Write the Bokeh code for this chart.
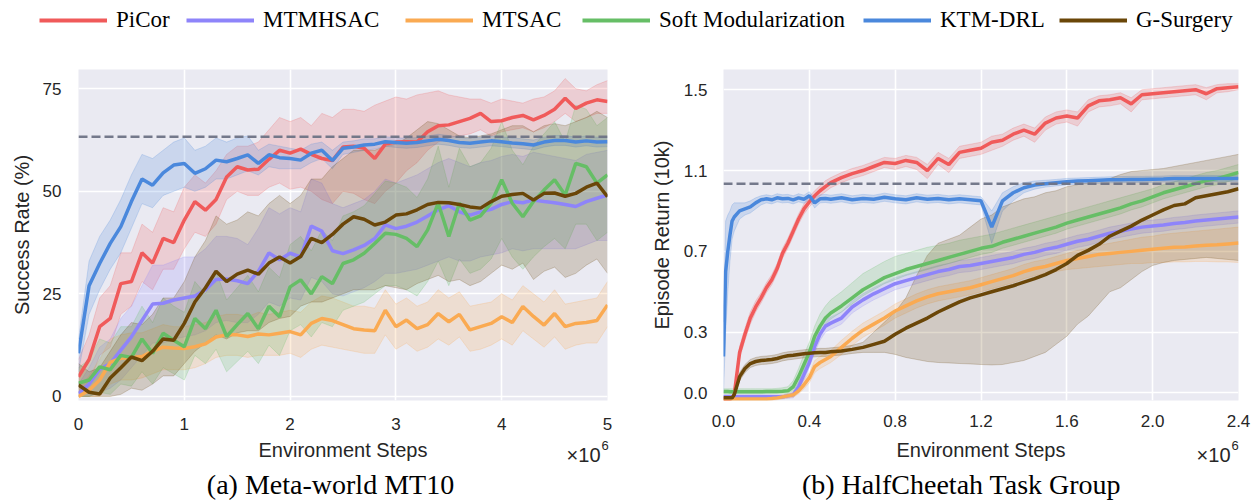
from bokeh.plotting import figure
from bokeh.layouts import column, row
from bokeh.models import (Range1d, FixedTicker, PrintfTickFormatter, Span, Label,
                          Legend, LegendItem)
from bokeh.embed import file_html
from bokeh.resources import INLINE

# ---------------- data ----------------
methods = ["PiCor", "MTMHSAC", "MTSAC", "Soft Modularization", "KTM-DRL", "G-Surgery"]
colors = ["#F05A5A", "#8E84FA", "#FAAA52", "#66BE66", "#4A88DC", "#6A4608"]

# Meta-world MT10 (x in millions of steps, y = success rate %)
mt10_steps = [0.0, 0.1, 0.2, 0.3, 0.4, 0.5, 0.6, 0.7, 0.8, 0.9, 1.0,
              1.1, 1.2, 1.3, 1.4, 1.5, 1.6, 1.7, 1.8, 1.9, 2.0,
              2.1, 2.2, 2.3, 2.4, 2.5, 2.6, 2.7, 2.8, 2.9, 3.0,
              3.1, 3.2, 3.3, 3.4, 3.5, 3.6, 3.7, 3.8, 3.9, 4.0,
              4.1, 4.2, 4.3, 4.4, 4.5, 4.6, 4.7, 4.8, 4.9, 5.0]

mt10_picor_mean = [4.8, 9, 17, 19, 27.5, 28, 35, 32.5, 38.5, 37.5, 43,
                   47.5, 45.4, 48, 53.5, 56, 55.2, 55.4, 57.8, 60, 59.3,
                   60.3, 59, 58, 57.5, 60.8, 61, 60.5, 58, 61.5, 62,
                   62.1, 62, 64.5, 66, 66.2, 67, 67.8, 69, 67, 67.2,
                   68, 68.5, 67.4, 68.5, 70, 72.7, 70.2, 71.5, 72.3, 71.9]
mt10_picor_low = [1, 3, 10, 12, 20, 22, 28, 26, 31, 31, 36,
                  40, 39, 42, 48, 50, 49, 49, 51, 52, 50.5,
                  51, 50, 48, 47, 50, 49.5, 48, 47, 50, 52,
                  55, 57, 60, 62, 63, 63.5, 64, 65, 63.5, 64.5,
                  65, 65.5, 64.5, 65.5, 67, 69, 67, 68, 69, 69]
mt10_picor_high = [9, 15, 24, 27, 35, 35, 42, 40, 46, 45, 51,
                   54, 52, 55, 59, 61, 61, 62, 65, 68, 67,
                   68, 66, 69, 68, 70, 70, 69.5, 71, 72, 73,
                   72.5, 73.5, 74, 74.5, 73.5, 73, 72.5, 72.5, 71.5, 72.5,
                   72, 71.5, 72.5, 73, 74.5, 77.5, 75, 74.5, 76, 77]

mt10_mtmhsac_mean = [0.7, 3, 6.6, 8, 11.3, 14.5, 18.5, 22.5, 22.7, 23.5, 24,
                     24.5, 26, 28.5, 28.6, 28.2, 27.5, 30.5, 35, 33.3, 34.9,
                     34, 41.5, 40.3, 35.5, 34.8, 35.7, 36.8, 38.5, 41.8, 40.9,
                     41.5, 42.5, 44, 45.5, 46.5, 45, 44.2, 45, 45.6, 46.8,
                     47.5, 47.2, 47.9, 47.5, 47.2, 46.8, 46.3, 47.5, 48.3, 49.1]
mt10_mtmhsac_low = [0, 0, 1, 2, 4, 7, 10, 13, 13, 14, 14.5,
                    15, 16, 18, 18.5, 18, 18, 20, 23, 22, 24,
                    23.5, 29, 28, 25, 24.5, 25.5, 26.5, 28, 30, 30,
                    30.5, 31, 32, 33, 34, 33, 33, 34, 34.5, 35,
                    36, 35.5, 36, 36, 36, 36, 36, 37, 38, 38]
mt10_mtmhsac_high = [3, 7, 12, 14, 19, 22, 27, 32, 32, 33, 34,
                     34, 36, 39, 39, 38.5, 37, 41, 46, 44.5, 46,
                     45, 53, 52, 47, 46, 47, 48, 50, 53, 52,
                     53, 54, 55.5, 57, 58, 57, 56, 57, 57.5, 58.5,
                     59, 58.5, 59.5, 59, 58.5, 58, 57.5, 59, 59.5, 60]

mt10_mtsac_mean = [0, 1.5, 4, 8.3, 9.3, 9.5, 9.7, 11, 12, 11.8, 11.7,
                   12.1, 12.8, 14.5, 15, 15, 14.6, 15.2, 15, 15.4, 15.8,
                   15, 17.8, 19, 18.5, 17.5, 16.5, 16.2, 16, 21, 17,
                   18.6, 16.5, 17.5, 20.2, 18.2, 20, 16.2, 17, 17.8, 19.4,
                   18, 21.9, 19.5, 17.4, 20.2, 17, 17.8, 18, 18.5, 22.3]
mt10_mtsac_low = [0, 0, 0, 3, 4, 4, 4.5, 5.5, 6.5, 6.5, 6.5,
                  7, 8, 9.5, 10, 10, 9.5, 10, 10, 10, 10.5,
                  9.5, 11.5, 12.5, 12, 11.5, 11, 10.5, 10.5, 15, 11.5,
                  13, 11, 12, 14, 12.5, 14.5, 11, 11.5, 12.5, 14,
                  12.5, 16, 14, 12, 14.5, 11.5, 12.5, 13, 13, 17]
mt10_mtsac_high = [2, 5, 9, 14, 15, 15.5, 15.5, 16.5, 17.5, 17, 17,
                   17.5, 18, 19.5, 20, 20, 19.5, 20.5, 20, 20.5, 21,
                   20.5, 23, 24.5, 24, 23, 22, 22, 21.5, 26, 22.5,
                   24, 22, 23, 26, 24, 25.5, 22, 22.5, 23, 25,
                   23.5, 27, 25, 23, 26, 22.5, 23, 23.5, 24, 28]

mt10_softmod_mean = [3.2, 4, 7.2, 6.5, 10, 9.5, 14, 10.5, 15.4, 13.7, 12.1,
                     19, 16.5, 21, 14.6, 17.5, 20.2, 16.5, 22, 19.4, 26.7,
                     28.4, 25, 29.2, 27.5, 32.4, 33.3, 34.9, 37.3, 39.8, 39.5,
                     38.5, 36.5, 40.6, 47.1, 39, 47.1, 43, 44, 47.1, 52.8,
                     47.1, 43.8, 47.5, 50.3, 52.8, 49.1, 56.8, 56, 52, 54]
mt10_softmod_low = [0, 0, 1, 0.5, 3, 2.5, 6, 3, 7, 5.5, 4,
                    10, 8, 11.5, 6, 8.5, 11, 8, 12.5, 10, 16,
                    17.5, 14.5, 18, 17, 21, 22, 23, 25, 27, 27,
                    26, 24.5, 28, 33, 27, 33.5, 30, 31, 33.5, 38.5,
                    34, 31, 34, 36.5, 38.5, 36, 42, 42, 38, 40]
mt10_softmod_high = [7, 9, 14, 13, 17, 17, 22, 18, 24, 22, 20.5,
                     28, 25, 30.5, 23.5, 26.5, 29.5, 25.5, 31.5, 29, 37,
                     39, 35.5, 40.5, 38, 44, 45, 46.5, 49.5, 52.5, 52,
                     51, 48.5, 53, 61, 51, 60.5, 56, 57, 60.5, 67,
                     60, 56.5, 61, 64, 67, 62, 71, 70, 66, 68]

mt10_ktm_mean = [10.5, 27, 32.4, 37.3, 41.4, 47.5, 53, 51.5, 54.5, 56.4, 56.8,
                 54.4, 55.5, 57.6, 57.2, 58, 58.9, 56.8, 58.9, 58.2, 58,
                 57.6, 59.3, 60, 57.5, 60.5, 60.8, 61.3, 61.5, 62.1, 61.9,
                 61.7, 61.9, 62.3, 62.7, 62.4, 61.9, 61.7, 62, 62.3, 62.1,
                 61.8, 61.6, 61.3, 62, 62.4, 62.4, 62, 62.3, 62, 62.1]
mt10_ktm_low = [6, 20, 26, 31, 35, 41, 47, 46, 49, 50, 51,
                50, 51, 53, 53, 54, 55, 54, 56, 55.5, 55.5,
                55.5, 57, 58, 55.5, 59, 59.5, 60, 60.3, 61, 60.7,
                60.5, 60.7, 61.1, 61.5, 61.2, 60.7, 60.5, 60.8, 61.1, 60.9,
                60.6, 60.4, 60.1, 60.8, 61.2, 61.2, 60.8, 61.1, 60.8, 60.9]
mt10_ktm_high = [14, 33, 39, 43, 48, 54, 59, 58, 60, 62, 63,
                 60, 61, 63, 62, 63, 63.5, 60, 61.5, 61, 60.5,
                 60, 61.5, 62, 60, 62, 62.3, 62.8, 62.8, 63.3, 63.1,
                 62.9, 63.1, 63.5, 63.9, 63.6, 63.1, 62.9, 63.2, 63.5, 63.3,
                 63, 62.8, 62.5, 63.2, 63.6, 63.6, 63.2, 63.5, 63.2, 63.3]

mt10_gsurgery_mean = [2.8, 1, 0.6, 4.5, 7, 9.6, 8.7, 11, 14, 13.7, 17.8,
                      23, 26.5, 30.5, 28, 29.8, 30.8, 29.8, 32.5, 34, 32.5,
                      34.1, 38.5, 37.5, 39.5, 42, 43.8, 43.2, 41.8, 42.5, 44.2,
                      44.5, 45.5, 46.8, 47.3, 47.2, 46.8, 46.2, 45.9, 47.5, 48.8,
                      49.2, 49.5, 47.9, 49.5, 49.6, 48.8, 49.5, 51, 52, 48.7]
mt10_gsurgery_low = [0, 0, 0, 0, 0.5, 2, 1.5, 3, 5, 5, 8,
                     11, 13, 15, 14, 15.5, 16, 16, 18, 19, 19.5,
                     22, 23, 23, 24, 25, 26, 26, 26, 27, 26.5,
                     26, 27.5, 28.5, 29.5, 28, 28.5, 27, 28, 30, 32,
                     31, 32.5, 28.5, 30.5, 31.5, 29, 30, 32, 33.5, 30]
mt10_gsurgery_high = [8, 6, 7, 11, 15, 18, 17.5, 20, 24, 24, 28,
                      34, 38, 44, 42, 43, 45, 44, 47, 49, 47,
                      49, 53, 53, 56, 58, 60, 60, 60, 61, 61.5,
                      63, 65, 67, 66.5, 65, 63.5, 63, 63.5, 64, 65,
                      66, 66, 64.5, 66, 66.5, 66, 67, 68, 69.5, 68]

mt10_baseline = 63.3

# HalfCheetah task group (x in millions of steps, y = episode return in 10k)
hc_steps = [0.0, 0.01, 0.02, 0.03, 0.04, 0.05,
            0.075, 0.1, 0.125, 0.15, 0.175, 0.2, 0.225, 0.25, 0.275, 0.3,
            0.325, 0.35, 0.375, 0.4, 0.425, 0.45, 0.475, 0.5,
            0.55, 0.6, 0.65, 0.7, 0.75, 0.8, 0.85, 0.9, 0.95, 1.0,
            1.05, 1.1, 1.15, 1.2, 1.25, 1.3, 1.35, 1.4, 1.45,
            1.5, 1.55, 1.6, 1.65, 1.7, 1.75, 1.8, 1.85, 1.9, 1.95, 2.0,
            2.05, 2.1, 2.15, 2.2, 2.25, 2.3, 2.35, 2.4]

hc_picor_mean = [-0.03, -0.03, -0.03, -0.03, -0.025, -0.01,
                 0.2, 0.29, 0.37, 0.425, 0.47, 0.52, 0.56, 0.615, 0.69, 0.74, 0.8, 0.86, 0.91, 0.945, 0.975, 1.0, 1.02, 1.04,
                 1.065, 1.085, 1.1, 1.12, 1.14, 1.135, 1.15, 1.14, 1.1, 1.16, 1.13, 1.19, 1.2, 1.21, 1.24, 1.25, 1.28, 1.3, 1.28,
                 1.335, 1.36, 1.37, 1.36, 1.42, 1.445, 1.45, 1.46, 1.43, 1.475, 1.48, 1.485, 1.49, 1.495, 1.5, 1.48, 1.505, 1.51, 1.515]
hc_picor_low = [-0.04, -0.04, -0.04, -0.04, -0.035, -0.02,
                0.17, 0.26, 0.34, 0.4, 0.445, 0.495, 0.535, 0.59, 0.665, 0.715, 0.775, 0.835, 0.885, 0.92, 0.95, 0.975, 0.995, 1.015,
                1.04, 1.06, 1.075, 1.095, 1.115, 1.105, 1.12, 1.105, 1.06, 1.13, 1.09, 1.16, 1.17, 1.18, 1.2, 1.22, 1.25, 1.27, 1.24,
                1.3, 1.33, 1.34, 1.32, 1.39, 1.415, 1.42, 1.43, 1.39, 1.45, 1.455, 1.46, 1.465, 1.47, 1.475, 1.45, 1.485, 1.49, 1.5]
hc_picor_high = [-0.02, -0.02, -0.02, -0.02, -0.015, 0.0,
                 0.23, 0.32, 0.4, 0.455, 0.495, 0.545, 0.585, 0.64, 0.715, 0.765, 0.825, 0.885, 0.935, 0.97, 1.0, 1.025, 1.05, 1.065,
                 1.09, 1.11, 1.125, 1.145, 1.165, 1.16, 1.175, 1.165, 1.13, 1.19, 1.16, 1.22, 1.23, 1.24, 1.27, 1.28, 1.31, 1.33, 1.31,
                 1.365, 1.39, 1.4, 1.39, 1.45, 1.47, 1.475, 1.485, 1.46, 1.5, 1.505, 1.51, 1.515, 1.52, 1.525, 1.51, 1.525, 1.53, 1.53]

hc_mtmhsac_mean = [-0.02, -0.02, -0.02, -0.02, -0.02, -0.02,
                   -0.02, -0.02, -0.02, -0.02, -0.02, -0.02, -0.02, -0.02, -0.02, -0.015, -0.01, 0.03, 0.09, 0.15, 0.23, 0.29, 0.33, 0.345,
                   0.37, 0.425, 0.46, 0.49, 0.515, 0.54, 0.555, 0.57, 0.585, 0.6, 0.61, 0.625, 0.63, 0.64, 0.65, 0.66, 0.67, 0.685, 0.695,
                   0.71, 0.72, 0.735, 0.75, 0.76, 0.775, 0.79, 0.8, 0.81, 0.82, 0.825, 0.83, 0.838, 0.843, 0.85, 0.855, 0.86, 0.865, 0.87]
hc_mtmhsac_low = [-0.03, -0.03, -0.03, -0.03, -0.03, -0.03,
                  -0.03, -0.03, -0.03, -0.03, -0.03, -0.03, -0.03, -0.03, -0.03, -0.027, -0.025, 0.01, 0.065, 0.125, 0.2, 0.26, 0.3, 0.315,
                  0.34, 0.395, 0.43, 0.46, 0.485, 0.51, 0.525, 0.54, 0.555, 0.57, 0.58, 0.595, 0.6, 0.61, 0.62, 0.63, 0.64, 0.655, 0.665,
                  0.68, 0.69, 0.705, 0.72, 0.73, 0.745, 0.76, 0.77, 0.78, 0.79, 0.795, 0.8, 0.808, 0.813, 0.82, 0.825, 0.83, 0.835, 0.84]
hc_mtmhsac_high = [-0.01, -0.01, -0.01, -0.01, -0.01, -0.01,
                   -0.01, -0.01, -0.01, -0.01, -0.01, -0.01, -0.01, -0.01, -0.01, -0.005, 0.005, 0.055, 0.12, 0.18, 0.26, 0.32, 0.36, 0.375,
                   0.4, 0.455, 0.49, 0.52, 0.545, 0.57, 0.585, 0.6, 0.615, 0.63, 0.64, 0.655, 0.66, 0.67, 0.68, 0.69, 0.7, 0.715, 0.725,
                   0.74, 0.75, 0.765, 0.78, 0.79, 0.805, 0.82, 0.83, 0.84, 0.85, 0.855, 0.86, 0.868, 0.873, 0.88, 0.885, 0.89, 0.895, 0.9]

hc_mtsac_mean = [-0.03, -0.03, -0.03, -0.03, -0.03, -0.03,
                 -0.03, -0.03, -0.03, -0.03, -0.03, -0.03, -0.028, -0.025, -0.02, -0.015, -0.01, 0.01, 0.04, 0.075, 0.13, 0.15, 0.165, 0.18,
                 0.225, 0.27, 0.31, 0.34, 0.37, 0.405, 0.43, 0.455, 0.475, 0.49, 0.5, 0.51, 0.52, 0.535, 0.55, 0.565, 0.58, 0.6, 0.615,
                 0.625, 0.64, 0.655, 0.665, 0.675, 0.685, 0.69, 0.695, 0.7, 0.705, 0.71, 0.715, 0.72, 0.722, 0.727, 0.73, 0.733, 0.737, 0.741]
hc_mtsac_low = [-0.04, -0.04, -0.04, -0.04, -0.04, -0.04,
                -0.04, -0.04, -0.04, -0.04, -0.04, -0.04, -0.038, -0.035, -0.03, -0.026, -0.022, -0.005, 0.02, 0.05, 0.1, 0.12, 0.135, 0.15,
                0.19, 0.235, 0.275, 0.305, 0.335, 0.37, 0.395, 0.42, 0.44, 0.455, 0.465, 0.475, 0.485, 0.5, 0.515, 0.53, 0.545, 0.565, 0.58,
                0.59, 0.6, 0.61, 0.615, 0.62, 0.625, 0.63, 0.635, 0.64, 0.64, 0.645, 0.645, 0.648, 0.648, 0.65, 0.65, 0.648, 0.648, 0.645]
hc_mtsac_high = [-0.02, -0.02, -0.02, -0.02, -0.02, -0.02,
                 -0.02, -0.02, -0.02, -0.02, -0.02, -0.02, -0.018, -0.015, -0.01, -0.004, 0.003, 0.03, 0.065, 0.1, 0.16, 0.18, 0.195, 0.21,
                 0.26, 0.305, 0.345, 0.375, 0.405, 0.44, 0.465, 0.49, 0.51, 0.525, 0.535, 0.545, 0.555, 0.57, 0.585, 0.6, 0.615, 0.635, 0.65,
                 0.66, 0.675, 0.69, 0.705, 0.715, 0.73, 0.74, 0.75, 0.76, 0.77, 0.775, 0.785, 0.79, 0.795, 0.8, 0.805, 0.81, 0.815, 0.82]

hc_softmod_mean = [0.007, 0.006, 0.006, 0.005, 0.005, 0.005,
                   0.005, 0.005, 0.005, 0.005, 0.005, 0.006, 0.006, 0.007, 0.008, 0.01, 0.03, 0.08, 0.14, 0.2, 0.28, 0.33, 0.37, 0.395,
                   0.43, 0.47, 0.51, 0.54, 0.57, 0.59, 0.61, 0.625, 0.64, 0.655, 0.67, 0.685, 0.7, 0.715, 0.725, 0.745, 0.76, 0.775, 0.79,
                   0.805, 0.82, 0.84, 0.855, 0.87, 0.885, 0.9, 0.915, 0.935, 0.95, 0.97, 0.99, 1.005, 1.02, 1.035, 1.05, 1.06, 1.075, 1.09]
hc_softmod_low = [-0.005, -0.005, -0.005, -0.005, -0.005, -0.005,
                  -0.005, -0.005, -0.005, -0.005, -0.005, -0.004, -0.004, -0.003, -0.002, -0.002, 0.01, 0.05, 0.11, 0.17, 0.25, 0.3, 0.34, 0.365,
                  0.4, 0.44, 0.48, 0.51, 0.54, 0.56, 0.58, 0.595, 0.61, 0.625, 0.64, 0.655, 0.67, 0.685, 0.695, 0.715, 0.73, 0.745, 0.76,
                  0.775, 0.79, 0.81, 0.825, 0.84, 0.855, 0.87, 0.885, 0.905, 0.92, 0.94, 0.96, 0.975, 0.99, 1.005, 1.02, 1.03, 1.045, 1.06]
hc_softmod_high = [0.02, 0.02, 0.02, 0.02, 0.02, 0.02,
                   0.02, 0.02, 0.02, 0.02, 0.02, 0.02, 0.02, 0.022, 0.025, 0.03, 0.06, 0.12, 0.19, 0.25, 0.33, 0.39, 0.43, 0.46,
                   0.5, 0.545, 0.59, 0.62, 0.65, 0.675, 0.69, 0.705, 0.72, 0.73, 0.74, 0.755, 0.765, 0.775, 0.785, 0.8, 0.815, 0.83, 0.845,
                   0.86, 0.875, 0.89, 0.905, 0.92, 0.935, 0.95, 0.965, 0.98, 0.995, 1.01, 1.03, 1.045, 1.06, 1.075, 1.09, 1.1, 1.115, 1.13]

hc_ktm_mean = [0.18, 0.6, 0.7, 0.78, 0.85, 0.87,
               0.9, 0.91, 0.92, 0.94, 0.955, 0.96, 0.955, 0.965, 0.96, 0.962, 0.955, 0.965, 0.958, 0.975, 0.94, 0.96, 0.962, 0.958,
               0.965, 0.955, 0.962, 0.958, 0.968, 0.96, 0.955, 0.965, 0.958, 0.962, 0.955, 0.96, 0.955, 0.95, 0.82, 0.95, 0.99, 1.015, 1.028,
               1.035, 1.04, 1.045, 1.048, 1.05, 1.052, 1.054, 1.055, 1.056, 1.056, 1.057, 1.058, 1.06, 1.06, 1.06, 1.061, 1.06, 1.061, 1.06]
hc_ktm_low = [0.0, 0.3, 0.5, 0.65, 0.76, 0.8,
              0.86, 0.88, 0.89, 0.91, 0.93, 0.94, 0.935, 0.945, 0.94, 0.942, 0.935, 0.945, 0.938, 0.955, 0.915, 0.94, 0.942, 0.938,
              0.945, 0.935, 0.942, 0.938, 0.948, 0.94, 0.935, 0.945, 0.938, 0.942, 0.935, 0.94, 0.935, 0.93, 0.74, 0.9, 0.95, 0.99, 1.008,
              1.018, 1.024, 1.029, 1.033, 1.035, 1.037, 1.039, 1.04, 1.041, 1.041, 1.042, 1.043, 1.045, 1.045, 1.045, 1.046, 1.045, 1.046, 1.045]
hc_ktm_high = [0.35, 0.85, 0.88, 0.9, 0.93, 0.94,
               0.94, 0.94, 0.95, 0.965, 0.975, 0.98, 0.975, 0.985, 0.98, 0.982, 0.975, 0.985, 0.978, 0.995, 0.965, 0.98, 0.982, 0.978,
               0.985, 0.975, 0.982, 0.978, 0.988, 0.98, 0.975, 0.985, 0.978, 0.982, 0.975, 0.98, 0.975, 0.97, 0.9, 0.99, 1.02, 1.04, 1.048,
               1.052, 1.056, 1.061, 1.063, 1.065, 1.067, 1.069, 1.07, 1.071, 1.071, 1.072, 1.073, 1.075, 1.075, 1.075, 1.076, 1.075, 1.076, 1.075]

hc_gsurgery_mean = [-0.025, -0.025, -0.025, -0.025, -0.025, -0.01,
                    0.08, 0.12, 0.145, 0.155, 0.16, 0.162, 0.165, 0.17, 0.178, 0.183, 0.186, 0.19, 0.193, 0.196, 0.198, 0.2, 0.2, 0.203,
                    0.207, 0.215, 0.225, 0.24, 0.255, 0.29, 0.32, 0.345, 0.37, 0.4, 0.425, 0.45, 0.47, 0.485, 0.5, 0.515, 0.53, 0.548, 0.565,
                    0.585, 0.61, 0.64, 0.68, 0.705, 0.735, 0.775, 0.8, 0.825, 0.855, 0.88, 0.905, 0.927, 0.935, 0.965, 0.975, 0.985, 0.995, 1.01]
hc_gsurgery_low = [-0.035, -0.035, -0.035, -0.035, -0.035, -0.02,
                   0.06, 0.1, 0.125, 0.135, 0.14, 0.142, 0.145, 0.15, 0.158, 0.163, 0.166, 0.17, 0.173, 0.176, 0.178, 0.18, 0.18, 0.183,
                   0.187, 0.195, 0.2, 0.2, 0.2, 0.19, 0.175, 0.165, 0.155, 0.15, 0.148, 0.145, 0.143, 0.14, 0.138, 0.14, 0.15, 0.16, 0.18,
                   0.2, 0.24, 0.28, 0.34, 0.38, 0.44, 0.5, 0.52, 0.56, 0.6, 0.63, 0.645, 0.655, 0.66, 0.665, 0.67, 0.665, 0.66, 0.655]
hc_gsurgery_high = [-0.015, -0.015, -0.015, -0.015, -0.015, 0.0,
                    0.1, 0.14, 0.165, 0.175, 0.18, 0.182, 0.185, 0.19, 0.198, 0.203, 0.206, 0.21, 0.213, 0.216, 0.218, 0.22, 0.22, 0.223,
                    0.227, 0.235, 0.25, 0.3, 0.35, 0.4, 0.47, 0.58, 0.68, 0.74, 0.76, 0.78, 0.82, 0.86, 0.88, 0.92, 0.94, 0.96, 0.97,
                    0.99, 1.0, 1.02, 1.03, 1.04, 1.05, 1.06, 1.08, 1.095, 1.1, 1.105, 1.11, 1.12, 1.13, 1.14, 1.15, 1.16, 1.17, 1.18]

hc_baseline = 1.035

mt10_x_ticks = [0, 1, 2, 3, 4, 5]
mt10_y_ticks = [0, 25, 50, 75]
hc_x_ticks = [0.0, 0.4, 0.8, 1.2, 1.6, 2.0, 2.4]
hc_y_ticks = [0.0, 0.3, 0.7, 1.1, 1.5]

mt10 = [
    (mt10_picor_mean, mt10_picor_low, mt10_picor_high),
    (mt10_mtmhsac_mean, mt10_mtmhsac_low, mt10_mtmhsac_high),
    (mt10_mtsac_mean, mt10_mtsac_low, mt10_mtsac_high),
    (mt10_softmod_mean, mt10_softmod_low, mt10_softmod_high),
    (mt10_ktm_mean, mt10_ktm_low, mt10_ktm_high),
    (mt10_gsurgery_mean, mt10_gsurgery_low, mt10_gsurgery_high),
]
hc = [
    (hc_picor_mean, hc_picor_low, hc_picor_high),
    (hc_mtmhsac_mean, hc_mtmhsac_low, hc_mtmhsac_high),
    (hc_mtsac_mean, hc_mtsac_low, hc_mtsac_high),
    (hc_softmod_mean, hc_softmod_low, hc_softmod_high),
    (hc_ktm_mean, hc_ktm_low, hc_ktm_high),
    (hc_gsurgery_mean, hc_gsurgery_low, hc_gsurgery_high),
]
for name, triple in zip(methods, mt10):
    for arr in triple:
        assert len(arr) == len(mt10_steps), (name, len(arr))
for name, triple in zip(methods, hc):
    for arr in triple:
        assert len(arr) == len(hc_steps), (name, len(arr))

# ---------------- styling helpers ----------------
SANS = "Liberation Sans"
SERIF = "Liberation Serif"
TXT = "#262626"
PAGE_W = 1255


def style_axes(p, ylab_standoff, xtick_standoff, ytick_standoff):
    for ax in (p.xaxis[0], p.yaxis[0]):
        ax.axis_line_color = None
        ax.major_tick_line_color = None
        ax.minor_tick_line_color = None
        ax.major_tick_out = 0
        ax.major_tick_in = 0
        ax.major_label_text_font = SANS
        ax.major_label_text_font_size = "17px"
        ax.major_label_text_color = TXT
        ax.axis_label_text_font = SANS
        ax.axis_label_text_font_size = "20px"
        ax.axis_label_text_font_style = "normal"
        ax.axis_label_text_color = TXT
    p.xaxis[0].major_label_standoff = xtick_standoff
    p.yaxis[0].major_label_standoff = ytick_standoff
    p.yaxis[0].axis_label_standoff = ylab_standoff
    p.grid.grid_line_color = "white"
    p.grid.grid_line_width = 1.6
    p.background_fill_color = "#EAEAF2"
    p.border_fill_color = "white"
    p.outline_line_color = None


def draw_series(p, x, data):
    for (mean, low, high), c in zip(data, colors):
        p.varea(x=x, y1=low, y2=high, fill_color=c, fill_alpha=0.2)
        p.line(x, low, line_color=c, line_alpha=0.22, line_width=1)
        p.line(x, high, line_color=c, line_alpha=0.22, line_width=1)
    for (mean, low, high), c in zip(data, colors):
        p.line(x, mean, line_color=c, line_width=3.5)


def strip(h, xr, yr):
    s = figure(width=PAGE_W, height=h, x_range=xr, y_range=yr, min_border=0,
               toolbar_location=None, output_backend="svg",
               x_axis_location=None, y_axis_location=None)
    s.grid.visible = False
    s.outline_line_color = None
    s.background_fill_color = "white"
    s.border_fill_color = "white"
    return s


# ---------------- panel (a) ----------------
pa = figure(frame_width=529, frame_height=331, min_border_left=78, min_border_right=33,
            min_border_top=18, min_border_bottom=39,
            x_range=Range1d(0, 5), y_range=Range1d(-1, 79.7),
            toolbar_location=None, output_backend="svg")
draw_series(pa, mt10_steps, mt10)
pa.add_layout(Span(location=mt10_baseline, dimension="width", line_color="#6E7385",
                   line_width=2.5, line_dash="9 4", line_alpha=0.95))
pa.xaxis[0].ticker = FixedTicker(ticks=mt10_x_ticks)
pa.yaxis[0].ticker = FixedTicker(ticks=mt10_y_ticks)
pa.xgrid[0].ticker = FixedTicker(ticks=mt10_x_ticks)
pa.ygrid[0].ticker = FixedTicker(ticks=mt10_y_ticks)
pa.yaxis[0].axis_label = "Success Rate (%)"
style_axes(pa, ylab_standoff=7, xtick_standoff=17, ytick_standoff=17)

# ---------------- panel (b) ----------------
pb = figure(frame_width=515, frame_height=331, min_border_left=83, min_border_right=17,
            min_border_top=21, min_border_bottom=36,
            x_range=Range1d(0, 2.4), y_range=Range1d(-0.038, 1.6),
            toolbar_location=None, output_backend="svg")
draw_series(pb, hc_steps, hc)
pb.add_layout(Span(location=hc_baseline, dimension="width", line_color="#6E7385",
                   line_width=2.5, line_dash="9 4", line_alpha=0.95))
pb.xaxis[0].ticker = FixedTicker(ticks=hc_x_ticks)
pb.yaxis[0].ticker = FixedTicker(ticks=hc_y_ticks)
pb.xgrid[0].ticker = FixedTicker(ticks=hc_x_ticks)
pb.ygrid[0].ticker = FixedTicker(ticks=hc_y_ticks)
pb.xaxis[0].formatter = PrintfTickFormatter(format="%.1f")
pb.yaxis[0].formatter = PrintfTickFormatter(format="%.1f")
pb.yaxis[0].axis_label = "Episode Return (10k)"
style_axes(pb, ylab_standoff=8, xtick_standoff=14, ytick_standoff=16)

# ---------------- legend strip (top) ----------------
pl = strip(48, Range1d(1000, 1001), Range1d(1000, 1001))
legend_x = [39, 186, 405, 582, 863, 1059]
for name, (mean, low, high), c, lx in zip(methods, mt10, colors, legend_x):
    r = pl.line(mt10_steps, mean, line_color=c, line_width=4)
    leg = Legend(items=[LegendItem(label=name, renderers=[r])], location=(lx, 15.5),
                 orientation="horizontal", border_line_color=None,
                 background_fill_alpha=0, padding=0, margin=0, spacing=0,
                 label_standoff=9, glyph_width=68, glyph_height=24, label_height=24,
                 label_text_font=SERIF, label_text_font_size="23px",
                 label_text_color="black", label_text_baseline="middle")
    pl.add_layout(leg, "center")

# ---------------- bottom strip: x labels, multipliers, captions ----------------
BOT_H = 64
pc = strip(BOT_H, Range1d(0, PAGE_W), Range1d(0, BOT_H))


def put(x, y, text, font, size, align, color=TXT):
    pc.add_layout(Label(x=x, y=y, text=text, text_font=font, text_font_size=size,
                        text_align=align, text_baseline="middle", text_color=color))


put(342.5, 51, "Environment Steps", SANS, "20px", "center")
put(980.5, 51, "Environment Steps", SANS, "20px", "center")
put(600, 46, "×10", SANS, "20px", "right")
put(601, 55, "6", SANS, "13px", "left")
put(1230, 46, "×10", SANS, "20px", "right")
put(1231, 55, "6", SANS, "13px", "left")
put(330, 16, "(a) Meta-world MT10", SERIF, "28px", "center", "black")
put(961, 16, "(b) HalfCheetah Task Group", SERIF, "28px", "center", "black")

layout = column(pl, row(pa, pb), pc)
open("out.html", "w").write(file_html(layout, INLINE))
